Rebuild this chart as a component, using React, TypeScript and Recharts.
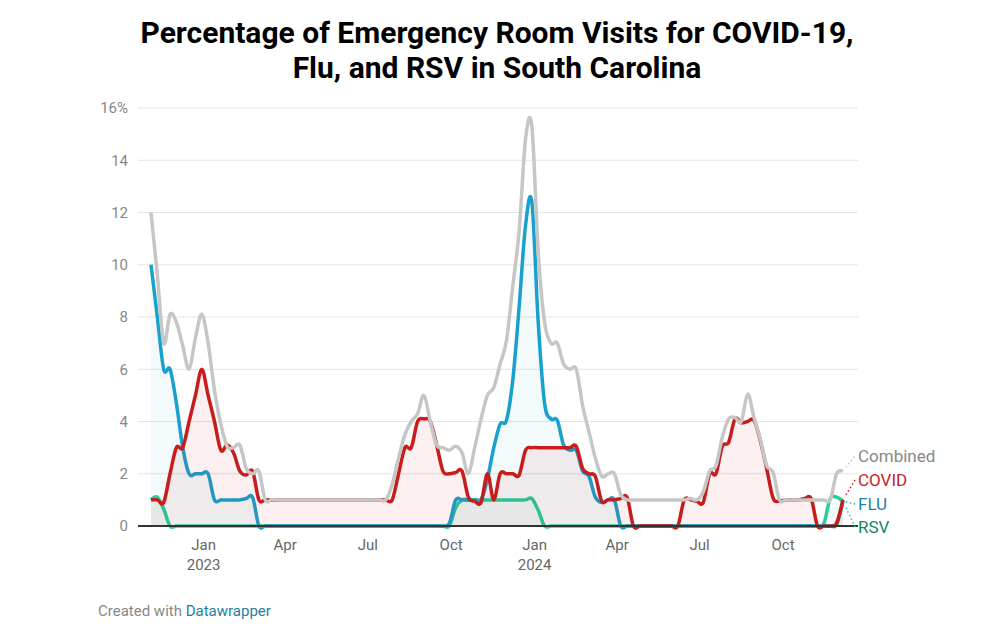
import React from 'react';
import { ComposedChart, Area, Line, XAxis, YAxis, CartesianGrid, ReferenceLine } from 'recharts';

// Weekly data, first week ending early Nov 2022
const START = Date.UTC(2022, 10, 4);
const DAY = 86400000;
const WEEK = 7 * DAY;

const combined = [
  12, 9.6, 7, 8.1, 7.8, 6.9, 6, 7.2, 8.1, 7,
  5.2, 3.9, 3.05, 3.0, 3.1, 2.2, 2.0, 2.1, 1, 1,
  1, 1, 1, 1, 1, 1, 1, 1, 1, 1,
  1, 1, 1, 1, 1, 1, 1, 1, 1.6, 2.6,
  3.5, 4, 4.3, 5, 4, 3.1, 3, 2.9, 3.05, 2.8,
  2.0, 3.0, 4.1, 5, 5.3, 6.2, 7.1, 9.2, 11.3, 14.8,
  15.3, 10.5, 7.8, 7.0, 7.0, 6.2, 6.0, 6.0, 4.6, 3.6,
  2.6, 1.9, 2.0, 2.0, 1.2, 1, 1, 1, 1, 1,
  1, 1, 1, 1, 1, 1.05, 1, 1.3, 2.1, 2.3,
  3.4, 4.1, 4.15, 4.0, 5.05, 4.15, 3.3, 2.3, 2.05, 1.0,
  1, 1, 1, 1, 1, 1, 1, 1, 2.0, 2.1,
];

const covid = [
  1, 1, 0.9, 2, 3, 3, 4, 5, 6, 5,
  4, 2.9, 3.1, 2.8, 2.1, 1.95, 2.1, 1, 1, 1,
  1, 1, 1, 1, 1, 1, 1, 1, 1, 1,
  1, 1, 1, 1, 1, 1, 1, 1, 1, 2,
  3, 3, 4, 4.1, 4, 3.1, 2.1, 2, 2.05, 2.1,
  1.1, 0.95, 0.9, 2, 1, 2, 2, 2, 1.95, 2.9,
  3, 3, 3, 3, 3, 3, 3, 3.05, 2.2, 2,
  1.9, 0.95, 1, 1, 1.05, 1.1, 0, 0, 0, 0,
  0, 0, 0, 0, 1, 1, 0.95, 0.9, 2, 2,
  3.05, 3.2, 4.1, 3.95, 4, 4.05, 3.25, 2.2, 1.07, 0.95,
  1, 1, 1, 1.05, 1.05, 0, 0, 0, 0.1, 1,
];

const flu = [
  10, 8, 6, 6, 4.7, 3, 2, 2, 2, 2,
  1, 1, 1, 1, 1, 1.05, 1.1, 0, 0, 0,
  0, 0, 0, 0, 0, 0, 0, 0, 0, 0,
  0, 0, 0, 0, 0, 0, 0, 0, 0, 0,
  0, 0, 0, 0, 0, 0, 0, 0.1, 1, 1,
  1, 1, 1, 1.8, 3, 3.9, 4.05, 5.6, 8.4, 11.5,
  12.4, 7.8, 4.7, 4.1, 4.05, 3.1, 2.9, 2.9, 2.1, 1.9,
  1.1, 0.9, 1, 1, 0, 0, 0, 0, 0, 0,
  0, 0, 0, 0, 0, 0, 0, 0, 0, 0,
  0, 0, 0, 0, 0, 0, 0, 0, 0, 0,
  0, 0, 0, 0, 0, 0, 0, 0, 0.05, 0.95,
];

const rsv = [
  1, 1.1, 0.65, 0, 0, 0, 0, 0, 0, 0,
  0, 0, 0, 0, 0, 0, 0, 0, 0, 0,
  0, 0, 0, 0, 0, 0, 0, 0, 0, 0,
  0, 0, 0, 0, 0, 0, 0, 0, 0, 0,
  0, 0, 0, 0, 0, 0, 0, 0, 0.7, 1,
  1, 1, 1, 1, 1, 1, 1, 1, 1, 1,
  1.05, 0.6, 0, 0, 0, 0, 0, 0, 0, 0,
  0, 0, 0, 0, 0, 0, 0, 0, 0, 0,
  0, 0, 0, 0, 0, 0, 0, 0, 0, 0,
  0, 0, 0, 0, 0, 0, 0, 0, 0, 0,
  0, 0, 0, 0, 0, 0, 0.1, 1.05, 1.1, 0.95,
];

const yTicks = [0, 2, 4, 6, 8, 10, 12, 14, 16];
const xTickMonths: [number, number][] = [
  [2023, 0], [2023, 3], [2023, 6], [2023, 9],
  [2024, 0], [2024, 3], [2024, 6], [2024, 9],
];
const monthNames = ['Jan', 'Feb', 'Mar', 'Apr', 'May', 'Jun', 'Jul', 'Aug', 'Sep', 'Oct', 'Nov', 'Dec'];

const data = combined.map((c, i) => ({
  date: START + i * WEEK,
  combined: c,
  covid: covid[i],
  flu: flu[i],
  rsv: rsv[i],
}));
const LAST = data.length - 1;
const xTicks = xTickMonths.map(([y, m]) => Date.UTC(y, m, 1));
const xDomain = [START - 14.34 * DAY, START - 14.34 * DAY + 794 * DAY];

// d3-style cardinal curve (tension 0)
function cardinal(context: any) {
  const k = 1 / 6;
  let x0 = NaN, y0 = NaN, x1 = NaN, y1 = NaN, x2 = NaN, y2 = NaN, pt = 0;
  let ln: number = NaN;
  const bez = (x: number, y: number) => {
    context.bezierCurveTo(
      x1 + k * (x2 - x0), y1 + k * (y2 - y0),
      x2 + k * (x1 - x), y2 + k * (y1 - y),
      x2, y2,
    );
  };
  return {
    areaStart() { ln = 0; },
    areaEnd() { ln = NaN; },
    lineStart() { x0 = x1 = x2 = y0 = y1 = y2 = NaN; pt = 0; },
    lineEnd() {
      switch (pt) {
        case 2: context.lineTo(x2, y2); break;
        case 3: bez(x1, y1); break;
      }
      if (ln || (ln !== 0 && pt === 1)) context.closePath();
      ln = 1 - ln;
    },
    point(xx: number, yy: number) {
      const x = +xx, y = +yy;
      switch (pt) {
        case 0: pt = 1; if (ln) context.lineTo(x, y); else context.moveTo(x, y); break;
        case 1: pt = 2; x1 = x; y1 = y; break;
        case 2: pt = 3; bez(x, y); break;
        default: bez(x, y); break;
      }
      x0 = x1; x1 = x2; x2 = x;
      y0 = y1; y1 = y2; y2 = y;
    },
  };
}

const FONT = 'Roboto, "Noto Sans", sans-serif';
const LW = 3.5;

const makeEndLabel = (text: string, lineColor: string, textColor: string, labelY: number) => (props: any) => {
  const { x, y, index } = props;
  if (index !== LAST || x == null || y == null) return null;
  const lx = 855;
  const sx = x + (lx - x) * 0.25;
  const sy = y + (labelY - y) * 0.25;
  return (
    <g>
      <line x1={sx} y1={sy} x2={lx} y2={labelY} stroke={lineColor} strokeWidth={1.5} strokeDasharray="1.5 2.5" />
      <text x={858} y={labelY} dy="0.36em" fill={textColor} fontSize={17} fontFamily={FONT}>{text}</text>
    </g>
  );
};

const XTick = (props: any) => {
  const { x, y, payload } = props;
  const d = new Date(payload.value);
  const m = d.getUTCMonth();
  return (
    <g>
      <text x={x} y={y} dy={16} textAnchor="middle" fill="#666" fontSize={15} fontFamily={FONT}>{monthNames[m]}</text>
      {m === 0 && (
        <text x={x} y={y} dy={36} textAnchor="middle" fill="#666" fontSize={15} fontFamily={FONT}>{d.getUTCFullYear()}</text>
      )}
    </g>
  );
};

export default function App() {
  return (
    <div style={{ position: 'absolute', left: 0, top: 0, width: 1000, height: 631, background: '#fff', fontFamily: FONT }}>
      <div style={{ position: 'absolute', top: 15, left: 0, width: 994, textAlign: 'center', fontWeight: 700, fontSize: 30, lineHeight: '35px', color: '#000' }}>
        Percentage of Emergency Room Visits for COVID-19,<br />Flu, and RSV in South Carolina
      </div>
      <div style={{ position: 'absolute', top: 0, left: 0 }}>
        <ComposedChart width={1000} height={631} data={data} margin={{ top: 108, right: 142, bottom: 75, left: 98 }}>
          <CartesianGrid vertical={false} stroke="#e4e4e4" strokeWidth={1} />
          <XAxis
            dataKey="date"
            type="number"
            domain={xDomain}
            ticks={xTicks}
            allowDataOverflow
            axisLine={false}
            tickLine={false}
            height={30}
            tick={<XTick />}
            interval={0}
          />
          <YAxis
            type="number"
            domain={[0, 16]}
            ticks={yTicks}
            width={40}
            axisLine={false}
            tickLine={false}
            tickMargin={4}
            interval={0}
            tick={{ fill: '#888', fontSize: 15, fontFamily: FONT }}
            tickFormatter={(v: number) => (v === 16 ? '16%' : String(v))}
          />
          <Line
            dataKey="combined"
            type={cardinal as any}
            stroke="#c6c6c6"
            strokeWidth={LW}
            dot={false}
            activeDot={false}
            isAnimationActive={false}
            label={makeEndLabel('Combined', '#c6c6c6', '#888', 456)}
          />
          <Area
            dataKey="rsv"
            type={cardinal as any}
            stroke="#26cf9c"
            strokeWidth={LW}
            fill="#26cf9c"
            fillOpacity={0.05}
            dot={false}
            activeDot={false}
            isAnimationActive={false}
            label={makeEndLabel('RSV', '#26cf9c', '#12875f', 527)}
          />
          <Area
            dataKey="flu"
            type={cardinal as any}
            stroke="#18a1cd"
            strokeWidth={LW}
            fill="#18a1cd"
            fillOpacity={0.05}
            dot={false}
            activeDot={false}
            isAnimationActive={false}
            label={makeEndLabel('FLU', '#18a1cd', '#1a7fb0', 504)}
          />
          <Area
            dataKey="covid"
            type={cardinal as any}
            stroke="#c71e1d"
            strokeWidth={LW}
            fill="#c71e1d"
            fillOpacity={0.07}
            dot={false}
            activeDot={false}
            isAnimationActive={false}
            label={makeEndLabel('COVID', '#c71e1d', '#c71e1d', 480)}
          />
          <ReferenceLine y={0} stroke="#333" strokeWidth={2} />
        </ComposedChart>
      </div>
      <div style={{ position: 'absolute', left: 98, top: 602, fontSize: 15, color: '#888' }}>
        Created with <span style={{ color: '#1d81a2' }}>Datawrapper</span>
      </div>
    </div>
  );
}
